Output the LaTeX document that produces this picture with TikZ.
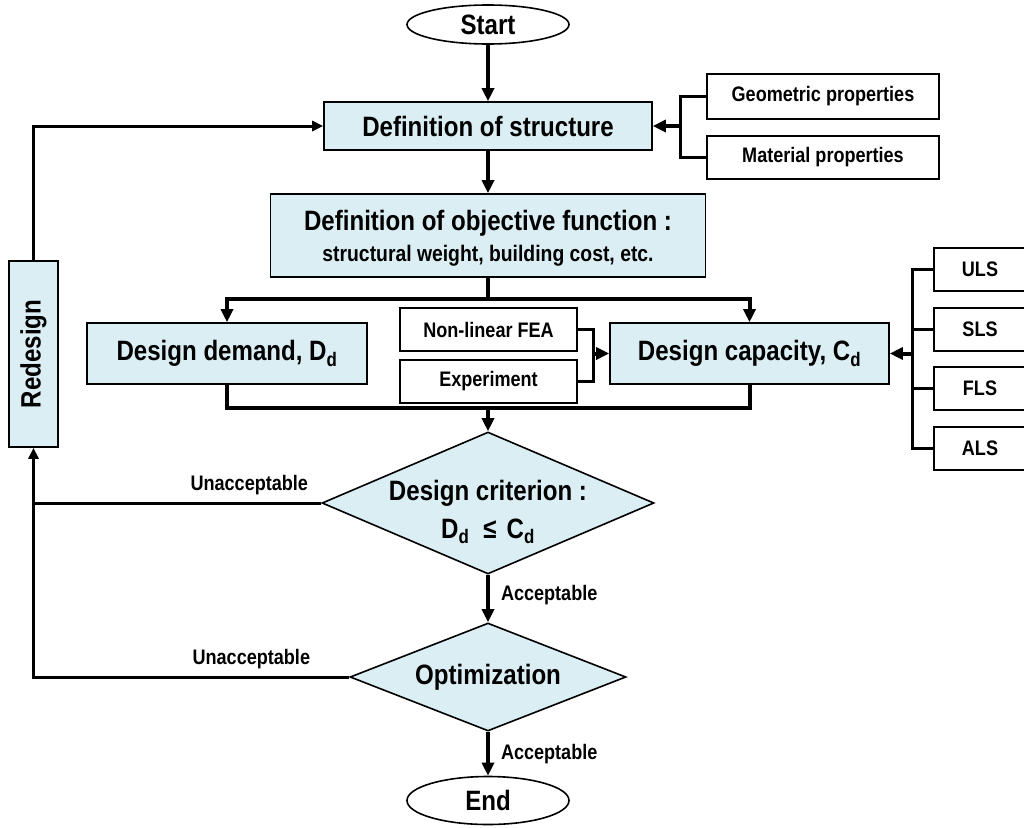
\documentclass[tikz,border=0pt]{standalone}
\usepackage{fontspec}
\setmainfont[FakeStretch=0.86]{Liberation Sans}
\usetikzlibrary{shapes.geometric, arrows.meta, positioning}
\definecolor{boxfill}{RGB}{219,238,244}

\begin{document}
\begin{tikzpicture}[
  x=1pt, y=-1pt,
  node distance=14.5pt and 20pt,
  proc/.style={rectangle, draw, fill=boxfill, line width=1.6pt, inner sep=0pt, align=center,
               text centered, font=\bfseries\fontsize{28}{30}\selectfont},
  item/.style={rectangle, draw, fill=white, line width=2pt, inner sep=0pt, minimum height=43pt,
               text centered, font=\bfseries\fontsize{21}{24}\selectfont},
  term/.style={ellipse, draw, line width=1.6pt, inner sep=0pt, minimum width=162pt,
               font=\bfseries\fontsize{28}{30}\selectfont},
  decision/.style={diamond, draw, fill=boxfill, line width=1.6pt, inner sep=0pt, aspect=2.5,
                   font=\bfseries\fontsize{28}{38}\selectfont},
  arrow/.style={-{Triangle[length=13pt, width=12pt]}, line width=4pt},
  link/.style={line width=4pt},
  thinlink/.style={line width=3pt},
  thinarrow/.style={-{Triangle[length=11pt, width=10pt]}, line width=3pt},
  note/.style={font=\bfseries\fontsize{21}{24}\selectfont, inner sep=3pt}
]
  \useasboundingbox (0,0) rectangle (1024,827);

  % main column
  \node[term, minimum height=39pt] (start) at (488,24.5) {Start};
  \node[proc, minimum width=328pt, minimum height=48pt] (defstruct) at (488,126) {Definition of structure};
  \node[proc, minimum width=435pt, minimum height=83pt] (objfun) at (488,235.5)
    {\rule{0pt}{26pt}Definition of objective function :\\[1pt]{\fontsize{22.5}{26}\selectfont structural weight, building cost, etc.}};
  \node[proc, minimum width=280pt, minimum height=61pt] (demand) at (227,353.5) {Design demand, D\textsubscript{d}};
  \node[proc, minimum width=279pt, minimum height=61pt] (capacity) at (749.5,353.5) {Design capacity, C\textsubscript{d}};
  \node[decision, minimum width=332pt, minimum height=142pt,
        label={[align=center, yshift=-9pt, font=\bfseries\fontsize{28}{38}\selectfont]center:{Design criterion :\\D\textsubscript{d}\hspace{14pt}≤\hspace{10pt}C\textsubscript{d}}}]
        (crit) at (488,503) {};
  \node[decision, minimum width=276pt, minimum height=108pt] (optim) at (488,677) {Optimization};
  \node[term, minimum height=48pt] (stop) at (488,800.5) {End};
  \node[proc, minimum width=49pt, minimum height=186pt] (redesign) at (33.5,354) {\rotatebox{90}{Redesign}};

  % inputs
  \node[item, minimum width=232pt, minimum height=45pt] (geom) at (823,96.5) {Geometric properties};
  \node[item, minimum width=232pt, below=of geom] (mat) {Material properties};
  \node[item, minimum width=177pt] (fea) at (488.5,329.5) {Non-linear FEA};
  \node[item, minimum width=177pt, below=7pt of fea] (exp) {Experiment};
  \node[item, minimum width=92pt] (uls) at (980,269.5) {ULS};
  \node[item, minimum width=92pt, below=of uls] (sls) {SLS};
  \node[item, minimum width=92pt, below=of sls] (fls) {FLS};
  \node[item, minimum width=92pt, below=of fls] (als) {ALS};

  \coordinate (propjoin) at (680,126);
  \coordinate (split) at (488,299);
  \coordinate (feajoin) at (593,353.5);
  \coordinate (lsjoin) at (912,353.5);
  \coordinate (merge) at (488,408);

  \draw[arrow] (start) -- (defstruct);
  \draw[arrow] (defstruct) -- (objfun);
  \draw[thinlink] (geom.west) -| (propjoin) |- (mat.west);
  \draw[arrow] (propjoin) -- (defstruct.east);

  \draw[link] (objfun) -- (split);
  \draw[arrow] (split) -| (demand.north);
  \draw[arrow] (split) -| (capacity.north);
  \draw[thinlink] (fea.east) -| (feajoin) |- (exp.east);
  \draw[arrow] (feajoin) -- (capacity.west);
  \draw[thinlink] (uls.west) -| (lsjoin) |- (als.west);
  \foreach \ls in {sls, fls}
    \draw[thinlink] (\ls.west) -- (\ls.west -| lsjoin);
  \draw[arrow] (lsjoin) -- (capacity.east);

  \draw[link] (demand.south) |- (merge) -| (capacity.south);
  \draw[arrow] (merge) -- (crit.north);
  \draw[arrow] (crit) -- node[note, right=8pt, pos=0.42]{Acceptable} (optim);
  \draw[arrow] (optim) -- node[note, right=8pt]{Acceptable} (stop);

  % redesign loop
  \draw[thinlink] (crit.west) -- node[note, above=4pt, pos=0.25]{Unacceptable} (crit.west -| redesign.south);
  \draw[thinarrow] (optim.west) -| node[note, above=4pt, pos=0.155]{Unacceptable} (redesign.south);
  \draw[thinarrow] (redesign.north) |- (defstruct.west);
\end{tikzpicture}
\end{document}
